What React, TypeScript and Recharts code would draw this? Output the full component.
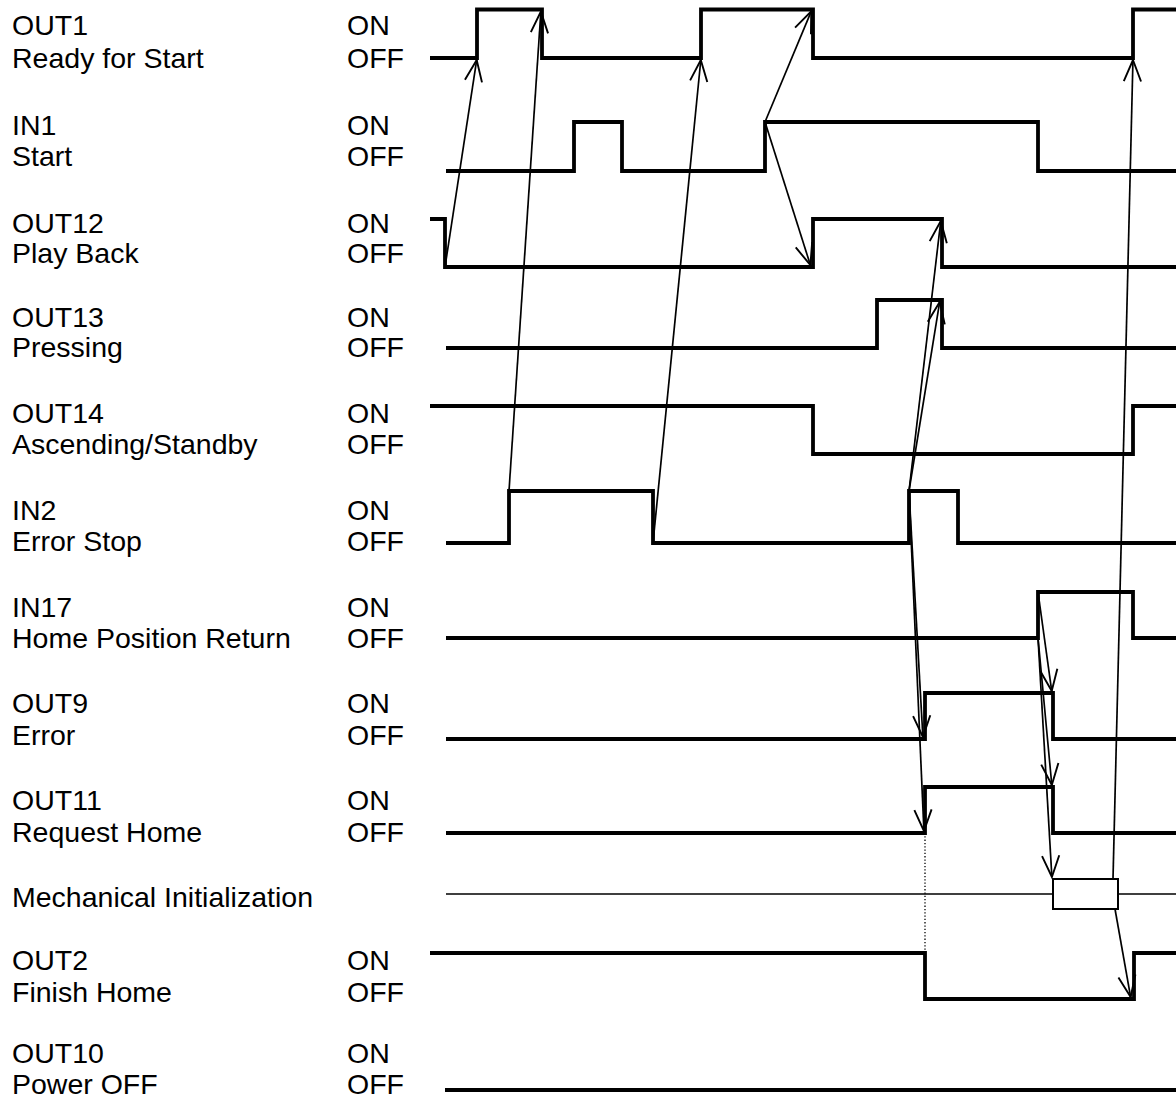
import React from 'react';
import { ComposedChart, Line, XAxis, YAxis, ReferenceLine, ReferenceArea, Customized } from 'recharts';

// ---------- data ----------
const signalIds = ['OUT1', 'IN1', 'OUT12', 'OUT13', 'OUT14', 'IN2', 'IN17', 'OUT9', 'OUT11', 'OUT2', 'OUT10'];
const signalNames = [
  'Ready for Start', 'Start', 'Play Back', 'Pressing', 'Ascending/Standby', 'Error Stop',
  'Home Position Return', 'Error', 'Request Home', 'Finish Home', 'Power OFF',
];
const initialLevels = [0, 0, 1, 0, 1, 0, 0, 0, 0, 1, 0];
const startTimes = [430, 446, 430, 446, 430, 446, 446, 446, 446, 430, 445];
const toggleTimes = [
  [477, 542, 701, 813, 1133],
  [574, 622, 765, 1038],
  [445, 813, 942],
  [877, 942],
  [813, 1133],
  [509, 653, 909, 958],
  [1038, 1133],
  [925, 1053],
  [925, 1053],
  [925, 1134],
  [],
];
const endTime = 1176;

const mechLabel = 'Mechanical Initialization';
const mechStart = 446;
const mechBusy = [1053, 1118];

const stateLabels = ['ON', 'OFF'];

// cause -> effect links: [signal, time, level]
const causeLinks: { from: [string, number, number]; to: [string, number, number] }[] = [
  { from: ['OUT12', 445, 0], to: ['OUT1', 477, 0] },
  { from: ['IN2', 509, 1], to: ['OUT1', 541, 1] },
  { from: ['IN2', 653, 0], to: ['OUT1', 701, 0] },
  { from: ['IN1', 765, 1], to: ['OUT1', 812, 1] },
  { from: ['IN1', 765, 1], to: ['OUT12', 811, 0] },
  { from: ['IN2', 909, 1], to: ['OUT12', 941, 1] },
  { from: ['IN2', 909, 1], to: ['OUT13', 940, 1] },
  { from: ['IN2', 909, 1], to: ['OUT9', 923, 0] },
  { from: ['IN2', 909, 1], to: ['OUT11', 924, 0] },
  { from: ['IN17', 1038, 1], to: ['OUT9', 1052, 1] },
  { from: ['IN17', 1038, 0], to: ['OUT11', 1052, 1] },
  { from: ['IN17', 1038, 0], to: ['MECH', 1052, 1] },
  { from: ['MECH', 1113, 1], to: ['OUT1', 1133, 0] },
  { from: ['MECH', 1115, 0], to: ['OUT2', 1131, 0] },
];

// ---------- layout ----------
const W = 1176;
const H = 1101;
const rowOffY = [58, 171, 267, 348, 454, 543, 638, 739, 833, 999, 1090];
const rowOnY = [9.5, 122, 219, 300, 406, 491, 592, 693, 787, 953, 1042];
const mechY = 894;
const mechHalf = 15;
const labelLine1 = [25, 125, 223, 317, 413, 510, 607, 703, 800, 960, 1053];
const labelLine2 = [58, 156, 253, 347, 444, 541, 638, 735, 832, 992, 1084];
const mechLabelY = 897;
const FONT = 28.5;
const FONT_FAMILY = '"Liberation Sans", Arial, sans-serif';

const levelY = (sig: string, lvl: number) => {
  if (sig === 'MECH') return lvl ? mechY - mechHalf : mechY + mechHalf;
  const i = signalIds.indexOf(sig);
  return lvl ? rowOnY[i] : rowOffY[i];
};

const signalData = signalIds.map((id, i) => {
  let lvl = initialLevels[i];
  const pts = [{ t: startTimes[i], y: lvl ? rowOnY[i] : rowOffY[i] }];
  toggleTimes[i].forEach((t) => {
    lvl = 1 - lvl;
    pts.push({ t, y: lvl ? rowOnY[i] : rowOffY[i] });
  });
  pts.push({ t: endTime, y: lvl ? rowOnY[i] : rowOffY[i] });
  return pts;
});

const mechData = [
  { t: mechStart, y: mechY },
  { t: mechBusy[0], y: mechY },
  { t: (mechBusy[0] + mechBusy[1]) / 2, y: null },
  { t: mechBusy[1], y: mechY },
  { t: endTime, y: mechY },
];

const ArrowShape = (props: any) => {
  const { x1, y1, x2, y2 } = props;
  const dx = x2 - x1;
  const dy = y2 - y1;
  const len = Math.sqrt(dx * dx + dy * dy) || 1;
  const ux = dx / len;
  const uy = dy / len;
  const tx = x2 - ux * 2;
  const ty = y2 - uy * 2;
  const L = 23;
  const a = (22 * Math.PI) / 180;
  const bx = -ux;
  const by = -uy;
  const w1x = tx + L * (bx * Math.cos(a) - by * Math.sin(a));
  const w1y = ty + L * (bx * Math.sin(a) + by * Math.cos(a));
  const w2x = tx + L * (bx * Math.cos(-a) - by * Math.sin(-a));
  const w2y = ty + L * (bx * Math.sin(-a) + by * Math.cos(-a));
  return (
    <g>
      <line x1={x1} y1={y1} x2={tx} y2={ty} stroke="#000" strokeWidth={1.7} />
      <polyline
        points={`${w1x},${w1y} ${tx},${ty} ${w2x},${w2y}`}
        fill="none"
        stroke="#000"
        strokeWidth={1.9}
      />
    </g>
  );
};

const Labels = () => (
  <g fontFamily={FONT_FAMILY} fontSize={FONT} fill="#000">
    {signalIds.map((id, i) => {
      const y1 = labelLine1[i] + FONT * 0.358;
      const y2 = labelLine2[i] + FONT * 0.358;
      return (
        <g key={id}>
          <text x={12} y={y1}>{id}</text>
          <text x={12} y={y2}>{signalNames[i]}</text>
          <text x={347} y={y1}>{stateLabels[0]}</text>
          <text x={347} y={y2}>{stateLabels[1]}</text>
        </g>
      );
    })}
    <text x={12} y={mechLabelY + FONT * 0.358}>{mechLabel}</text>
  </g>
);

export default function App() {
  return (
    <div style={{ position: 'absolute', left: 0, top: 0, width: W, height: H, background: '#fff' }}>
      <ComposedChart width={W} height={H} margin={{ top: 0, right: 0, bottom: 0, left: 0 }}>
        <XAxis type="number" dataKey="t" domain={[0, W]} hide allowDataOverflow />
        <YAxis type="number" domain={[0, H]} reversed hide allowDataOverflow />
        <Customized component={<Labels />} />
        <Line
          data={mechData}
          dataKey="y"
          type="linear"
          stroke="#000"
          strokeWidth={1.7}
          dot={false}
          activeDot={false}
          connectNulls={false}
          isAnimationActive={false}
        />
        <ReferenceArea
          x1={mechBusy[0]}
          x2={mechBusy[1]}
          y1={mechY - mechHalf}
          y2={mechY + mechHalf}
          fill="#fff"
          fillOpacity={1}
          stroke="#000"
          strokeWidth={2}
          ifOverflow="visible"
        />
        {signalData.map((d, i) => (
          <Line
            key={signalIds[i]}
            data={d}
            dataKey="y"
            type="stepAfter"
            stroke="#000"
            strokeWidth={3.8}
            dot={false}
            activeDot={false}
            isAnimationActive={false}
          />
        ))}
        <ReferenceLine
          segment={[
            { x: toggleTimes[8][0], y: rowOffY[8] },
            { x: toggleTimes[8][0], y: rowOnY[9] },
          ]}
          stroke="#000"
          strokeWidth={1.3}
          strokeDasharray="1.3 2"
          ifOverflow="visible"
        />
        {causeLinks.map((c, k) => (
          <ReferenceLine
            key={'a' + k}
            segment={[
              { x: c.from[1], y: levelY(c.from[0], c.from[2]) },
              { x: c.to[1], y: levelY(c.to[0], c.to[2]) },
            ]}
            ifOverflow="visible"
            shape={ArrowShape}
          />
        ))}
      </ComposedChart>
    </div>
  );
}
